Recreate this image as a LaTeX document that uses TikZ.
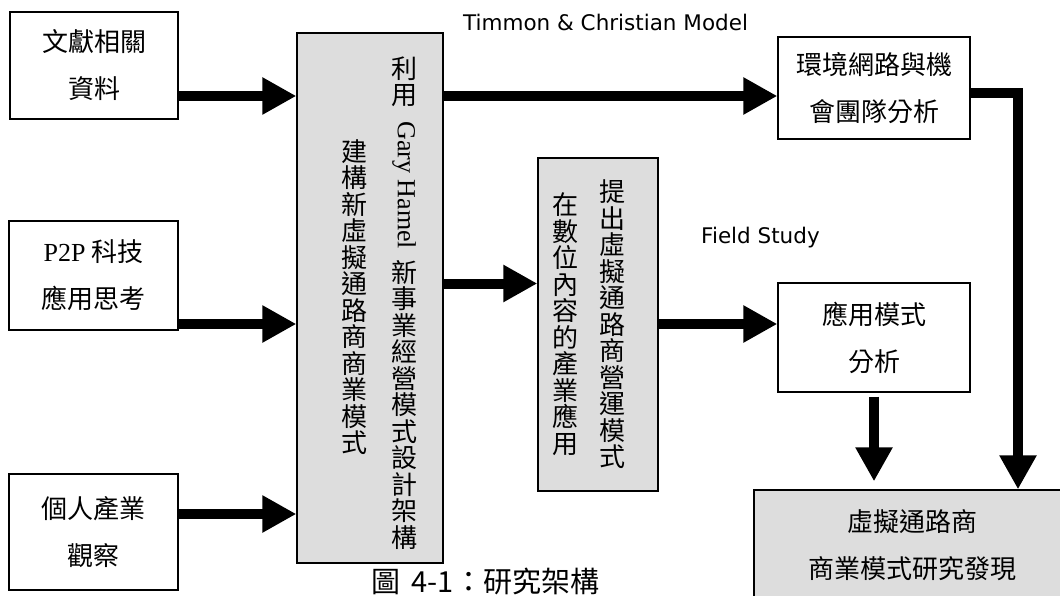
\documentclass[tikz,border=0pt]{standalone}
\usepackage{fontspec}
\usepackage{graphicx}
\setmainfont{Liberation Serif}
\newfontfamily\cjk{Noto Sans CJK TC}
\newfontfamily\lat{Liberation Serif}
\newfontfamily\dv{DejaVu Sans}
\usetikzlibrary{arrows.meta}
\definecolor{boxgray}{RGB}{221,221,221}
\begin{document}
\begin{tikzpicture}[x=1pt,y=-1pt,
  box/.style={draw, line width=1.3pt, fill=white, align=center, inner sep=0pt, font=\cjk\fontsize{26}{47}\selectfont},
  gbox/.style={box, fill=boxgray},
  vcol/.style={align=center, inner sep=0pt, font=\cjk\fontsize{26}{26.5}\selectfont},
  bigarrow/.style={line width=10pt, -{Triangle[length=34pt,width=35pt]}},
  lbl/.style={font=\dv\fontsize{21.5}{25}\selectfont, inner sep=0pt, anchor=west}]
\useasboundingbox (0,0) rectangle (1060,596);
\clip (0,0) rectangle (1060,596);
% left boxes
\node[box, minimum width=168pt, minimum height=107pt] (A) at (94,65.5) {文獻相關\\資料};
\node[box, minimum width=169pt, minimum height=109pt] (B) at (93.5,275.5) {{\lat P2P} 科技\\應用思考};
\node[box, minimum width=169pt, minimum height=116pt] (C) at (93.5,532) {個人產業\\觀察};
% gray boxes
\node[gbox, minimum width=146pt, minimum height=530pt] (G1) at (370,298) {};
\node[vcol] (G1r) at (404,303) {利\\用\\[-10pt]\rotatebox{-90}{\lat Gary Hamel}\\[10pt]新\\事\\業\\經\\營\\模\\式\\設\\計\\架\\構};
\node[vcol] (G1l) at (354,297) {建\\構\\新\\虛\\擬\\通\\路\\商\\商\\業\\模\\式};
\node[gbox, minimum width=120pt, minimum height=333pt] (G2) at (598,324.5) {};
\node[vcol] (G2r) at (612,324.5) {提\\出\\虛\\擬\\通\\路\\商\\營\\運\\模\\式};
\node[vcol] (G2l) at (565,324) {在\\數\\位\\內\\容\\的\\產\\業\\應\\用};
% right boxes
\node[box, minimum width=192pt, minimum height=102pt] (E) at (874,88) {環境網路與機\\會團隊分析};
\node[box, minimum width=192pt, minimum height=109pt] (F) at (874,337.5) {應用模式\\分析};
\node[gbox, minimum width=316pt, minimum height=111pt] (H) at (912,545.5) {虛擬通路商\\商業模式研究發現};
% labels
\node[lbl] (T) at (463,22) {Timmon \& Christian Model};
\node[lbl] (FS) at (701,238) {Field Study};
\node[font=\cjk\fontsize{29}{34}\selectfont, inner sep=0pt, anchor=base west] (cap) at (371,592) {圖\hspace{0.4em}4-1：研究架構};
% arrow rows
\coordinate (rA) at (0,96);
\coordinate (rB) at (0,324);
\coordinate (rC) at (0,514);
\coordinate (rE) at (0,96);
\coordinate (rG) at (0,283.5);
\coordinate (rF) at (0,324);
\coordinate (eC) at (1018,93);
\draw[bigarrow] (A.east |- rA) -- (G1.west |- rA);
\draw[bigarrow] (B.east |- rB) -- (G1.west |- rB);
\draw[bigarrow] (C.east |- rC) -- (G1.west |- rC);
\draw[bigarrow] (G1.east |- rE) -- (E.west |- rE);
\draw[bigarrow] (G1.east |- rG) -- (G2.west |- rG);
\draw[bigarrow] (G2.east |- rF) -- (F.west |- rF);
\draw[bigarrow] ([yshift=-4pt]F.south) -- ([yshift=8pt]F.south |- H.north);
\draw[bigarrow] (E.east |- eC) -- (eC) -- (eC |- H.north);
\end{tikzpicture}
\end{document}
